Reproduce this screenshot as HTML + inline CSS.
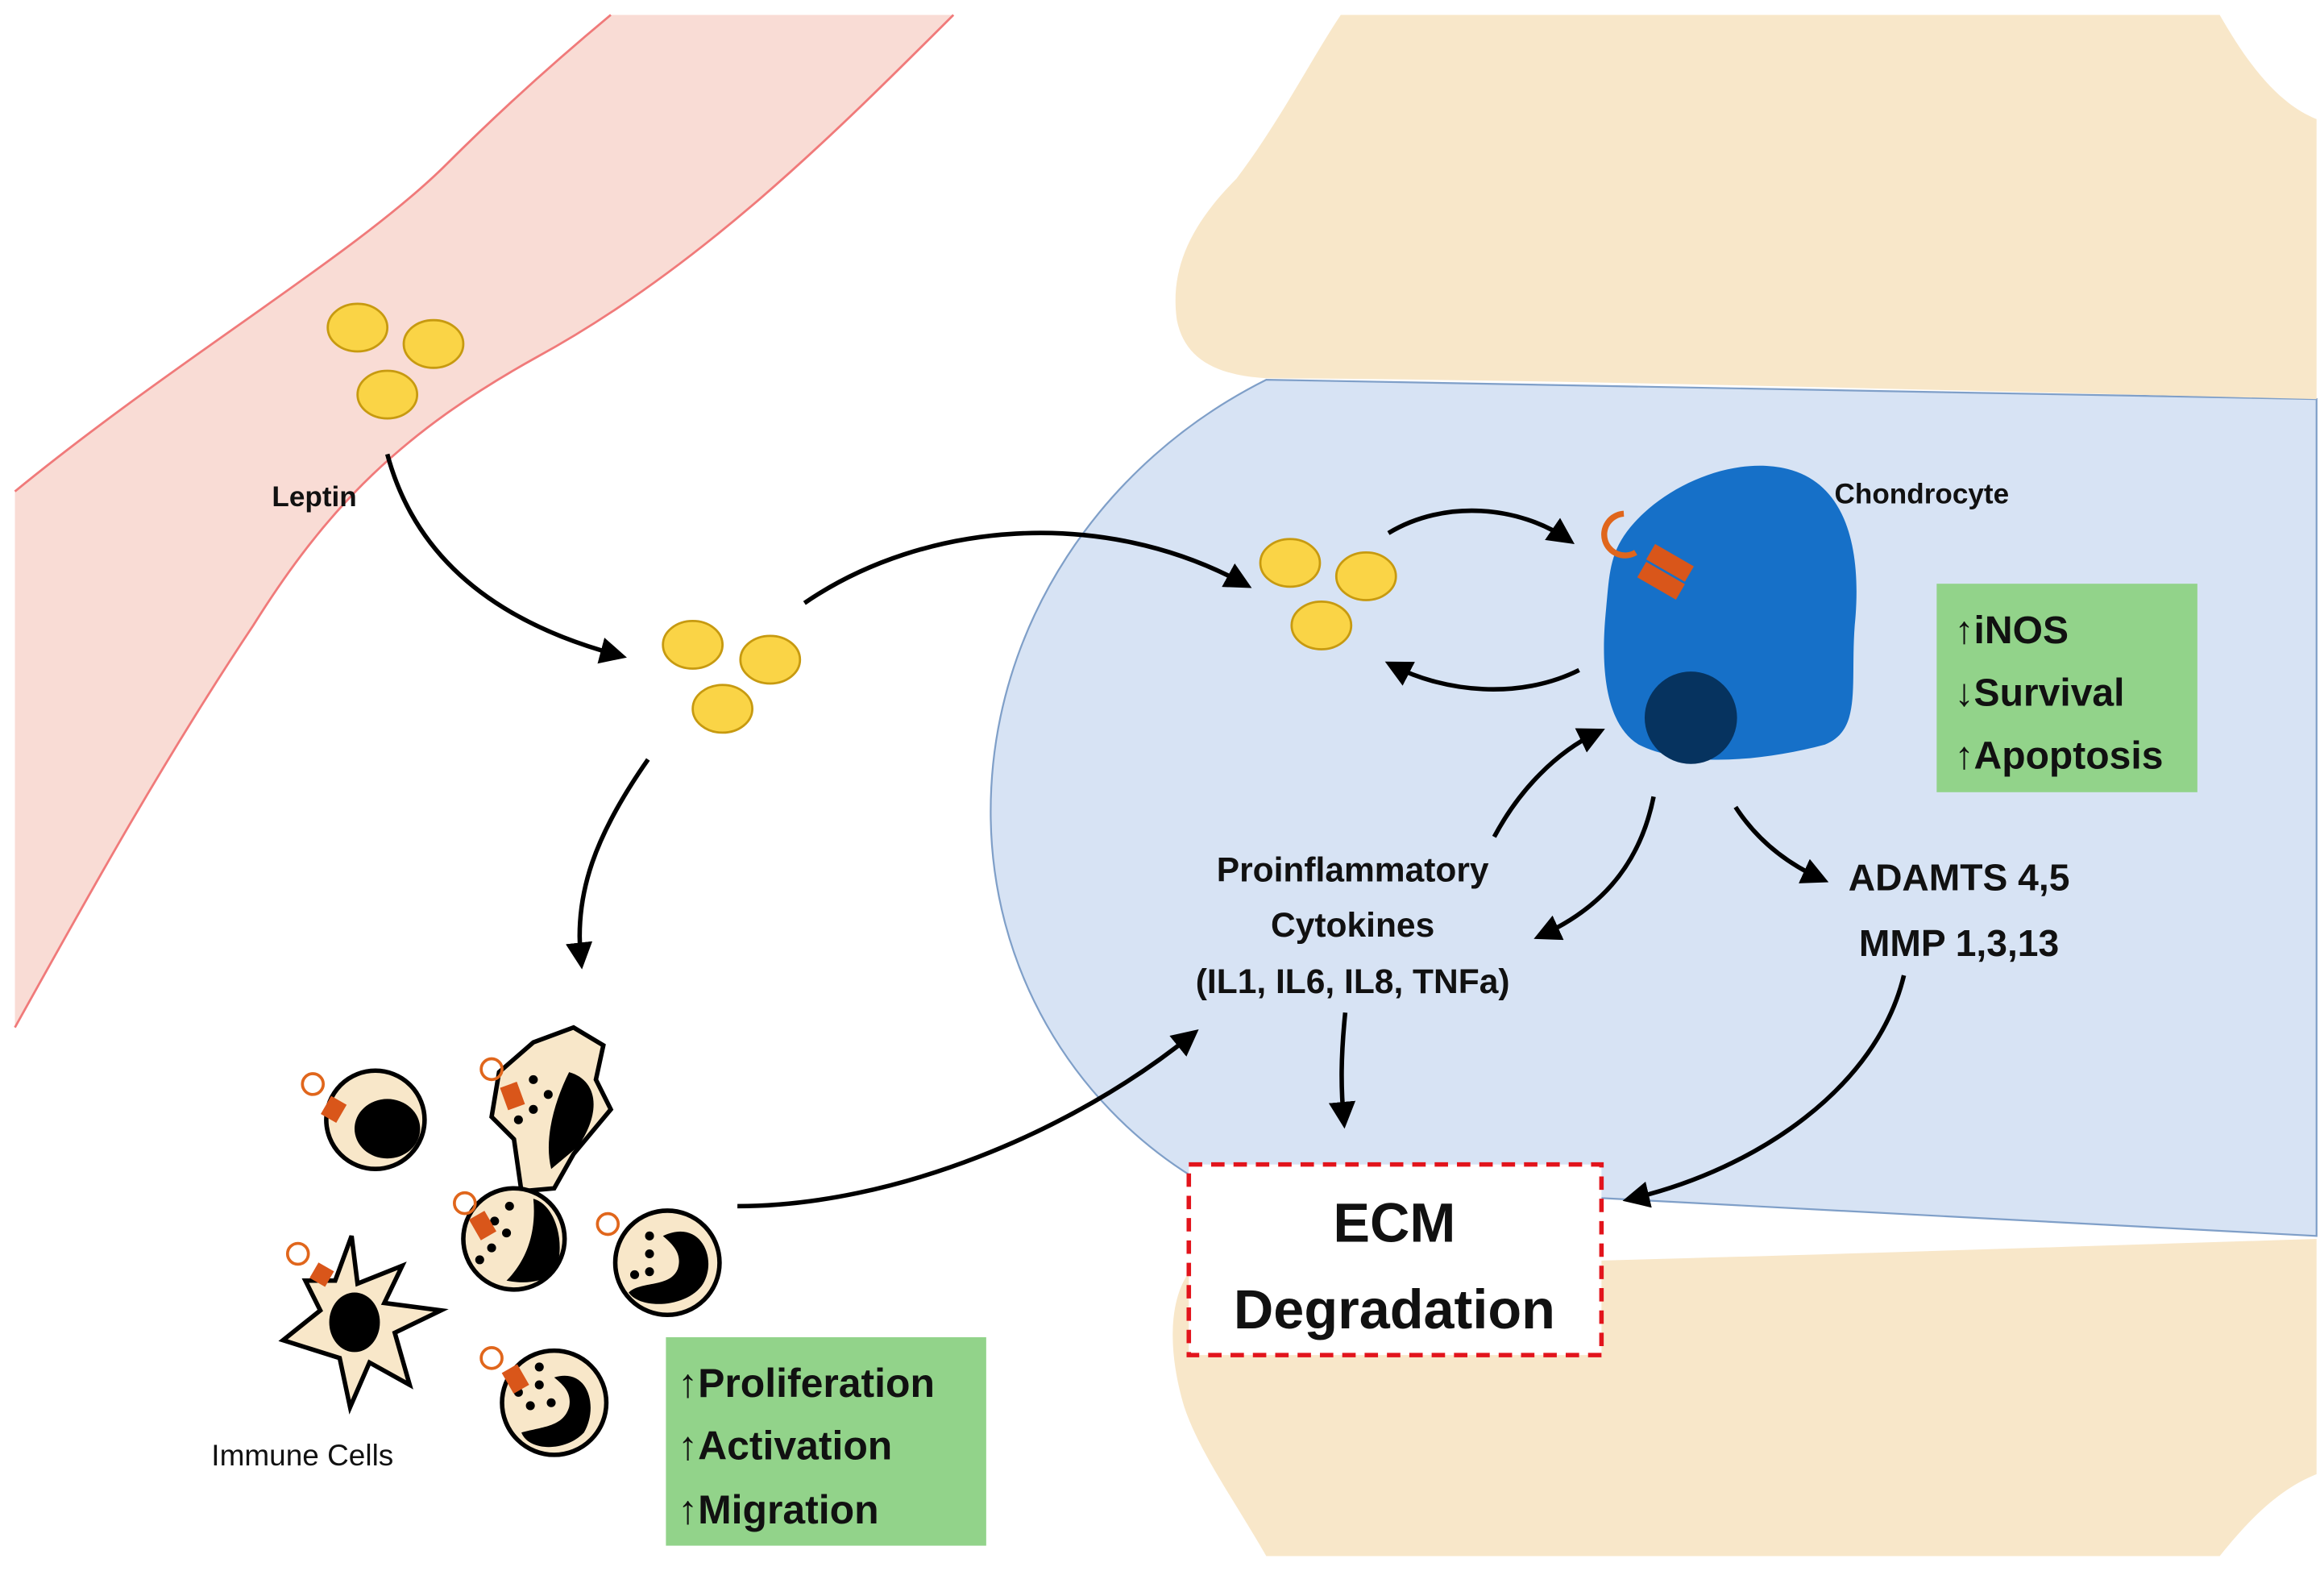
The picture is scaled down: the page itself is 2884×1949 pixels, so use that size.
<!DOCTYPE html>
<html><head><meta charset="utf-8"><style>
html,body{margin:0;padding:0;background:#fff}
svg{display:block}
text{font-family:"Liberation Sans",sans-serif;font-weight:bold;fill:#111}
</style></head><body>
<svg width="2884" height="1949" viewBox="0 0 1560 1055" preserveAspectRatio="none" xmlns="http://www.w3.org/2000/svg">
<defs>
<marker id="ah" markerWidth="6" markerHeight="6" refX="4" refY="3" orient="auto" markerUnits="strokeWidth">
<path d="M0,0 L6,3 L0,6 Z" fill="#000"/></marker>
</defs>
<rect width="1560" height="1055" fill="#fff"/>
<!-- vessel -->
<path d="M10,330 C120,240 240,170 300,110 C340,70 380,35 410,10 L640,10 C560,90 470,180 360,240 C270,290 220,340 170,420 C110,510 60,600 10,690 Z" fill="#f9dcd5"/>
<path d="M10,330 C120,240 240,170 300,110 C340,70 380,35 410,10" fill="none" stroke="#f07a7a" stroke-width="1.5"/>
<path d="M640,10 C560,90 470,180 360,240 C270,290 220,340 170,420 C110,510 60,600 10,690" fill="none" stroke="#f07a7a" stroke-width="1.5"/>
<!-- blue joint space -->
<path d="M850,255 C740,310 665,420 665,545 C665,650 720,740 800,790 L1555,830 L1555,268 Z" fill="#d7e3f4" stroke="#7f9fc8" stroke-width="1.2"/>
<!-- bones -->
<path d="M900,10 L1490,10 C1510,45 1530,70 1555,80 L1555,268 C1300,262 1050,255 850,254 C815,252 795,240 790,215 C785,180 800,150 830,120 C860,80 880,40 900,10 Z" fill="#f8e7c9"/>
<path d="M800,852 C1000,850 1300,840 1555,832 L1555,990 C1530,1000 1510,1020 1490,1045 L850,1045 C830,1010 805,975 795,945 C783,905 785,870 800,852 Z" fill="#f8e7c9"/>
<!-- leptin -->
<g fill="#fad446" stroke="#c79a10" stroke-width="1.5">
<ellipse cx="240" cy="220" rx="20" ry="16"/><ellipse cx="291" cy="231" rx="20" ry="16"/><ellipse cx="260" cy="265" rx="20" ry="16"/>
<ellipse cx="465" cy="433" rx="20" ry="16"/><ellipse cx="517" cy="443" rx="20" ry="16"/><ellipse cx="485" cy="476" rx="20" ry="16"/>
<ellipse cx="866" cy="378" rx="20" ry="16"/><ellipse cx="917" cy="387" rx="20" ry="16"/><ellipse cx="887" cy="420" rx="20" ry="16"/>
</g>
<!-- chondrocyte -->
<path d="M1090,360 C1110,330 1160,305 1200,315 C1240,325 1250,370 1245,420 C1242,460 1250,490 1225,500 C1180,512 1130,515 1100,500 C1075,485 1075,440 1078,410 C1080,390 1080,375 1090,360 Z" fill="#1670c8"/>
<circle cx="1135" cy="482" r="31" fill="#06335f"/>
<path d="M1090,345 a14,14 0 1 0 8,26" fill="none" stroke="#e0661c" stroke-width="4"/>
<rect x="1106" y="372" width="30" height="12" fill="#d9561a" transform="rotate(30 1121 378)"/>
<rect x="1100" y="384" width="30" height="12" fill="#d9561a" transform="rotate(30 1115 390)"/>
<!-- arrows -->
<g fill="none" stroke="#000" stroke-width="3" marker-end="url(#ah)">
<path d="M260,305 C280,380 340,420 415,440"/>
<path d="M540,405 C620,350 740,340 835,392"/>
<path d="M435,510 C400,560 385,600 390,645"/>
<path d="M932,358 C970,335 1020,340 1052,362"/>
<path d="M1060,450 C1020,470 970,465 935,447"/>
<path d="M495,810 C600,810 720,760 800,695"/>
<path d="M1003,562 C1020,530 1045,505 1072,492"/>
<path d="M1110,535 C1100,585 1070,612 1035,628"/>
<path d="M1165,542 C1180,565 1200,580 1222,590"/>
<path d="M903,680 C900,710 900,730 902,752"/>
<path d="M1278,655 C1260,730 1180,785 1095,805"/>
</g>
<!-- green boxes -->
<rect x="1300" y="392" width="175" height="140" fill="#92d38a"/>
<text x="1312" y="432" font-size="26">↑iNOS</text>
<text x="1312" y="474" font-size="26">↓Survival</text>
<text x="1312" y="516" font-size="26">↑Apoptosis</text>
<rect x="447" y="898" width="215" height="140" fill="#92d38a"/>
<text x="455" y="938" font-size="27">↑Proliferation</text>
<text x="455" y="980" font-size="27">↑Activation</text>
<text x="455" y="1023" font-size="27">↑Migration</text>
<!-- ECM -->
<rect x="798" y="782" width="277" height="128" fill="#fff" stroke="#e2141c" stroke-width="3" stroke-dasharray="9,6"/>
<text x="936" y="834" font-size="37" text-anchor="middle">ECM</text>
<text x="936" y="892" font-size="37" text-anchor="middle">Degradation</text>
<!-- labels -->
<text x="211" y="340" font-size="19" text-anchor="middle">Leptin</text>
<text x="1290" y="338" font-size="19" text-anchor="middle">Chondrocyte</text>
<text x="908" y="592" font-size="23" text-anchor="middle">Proinflammatory</text>
<text x="908" y="629" font-size="23" text-anchor="middle">Cytokines</text>
<text x="908" y="667" font-size="23" text-anchor="middle">(IL1, IL6, IL8, TNFa)</text>
<text x="1315" y="598" font-size="25" text-anchor="middle">ADAMTS 4,5</text>
<text x="1315" y="642" font-size="25" text-anchor="middle">MMP 1,3,13</text>
<text x="203" y="984" font-size="20" text-anchor="middle" style="font-weight:normal">Immune Cells</text>
<!-- immune cells -->
<g stroke="#000" stroke-width="3" fill="#f8e7c9">
<circle cx="252" cy="752" r="33"/>
<path d="M335,720 L358,700 L385,690 L405,702 L400,725 L410,745 L385,775 L372,798 L350,800 L345,765 L330,750 Z"/>
<circle cx="345" cy="832" r="34"/>
<circle cx="448" cy="848" r="35"/>
<path d="M236,830 L240,862 L270,850 L258,875 L296,880 L265,895 L275,930 L248,915 L235,945 L228,912 L190,900 L215,880 L205,860 L225,860 Z"/>
<circle cx="372" cy="942" r="35"/>
</g>
<g fill="#000">
<ellipse cx="260" cy="758" rx="22" ry="20"/>
<path d="M382,720 C400,725 405,745 388,770 L370,785 C365,765 372,740 382,720 Z"/>
<circle cx="358" cy="725" r="3"/><circle cx="368" cy="735" r="3"/><circle cx="358" cy="745" r="3"/><circle cx="348" cy="752" r="3"/>
<path d="M358,805 C375,810 380,840 372,855 C362,862 350,862 340,860 C355,845 360,825 358,805 Z"/>
<circle cx="332" cy="820" r="3"/><circle cx="340" cy="828" r="3"/><circle cx="330" cy="838" r="3"/><circle cx="322" cy="846" r="3"/><circle cx="342" cy="810" r="3"/>
<path d="M445,830 C470,818 482,845 472,862 C462,878 430,880 422,868 C430,860 450,865 455,852 C458,842 452,836 445,830 Z"/>
<circle cx="436" cy="830" r="3"/><circle cx="436" cy="842" r="3"/><circle cx="436" cy="854" r="3"/><circle cx="426" cy="856" r="3"/>
<ellipse cx="238" cy="888" rx="17" ry="20"/>
<path d="M372,925 C395,918 402,945 392,962 C380,975 355,975 350,962 C365,958 378,958 382,945 C384,935 378,930 372,925 Z"/>
<circle cx="362" cy="918" r="3"/><circle cx="362" cy="930" r="3"/><circle cx="370" cy="942" r="3"/><circle cx="356" cy="944" r="3"/><circle cx="348" cy="935" r="3"/>
</g>
<g fill="#d9561a">
<rect x="218" y="738" width="12" height="14" transform="rotate(30 224 745)"/>
<rect x="338" y="728" width="12" height="16" transform="rotate(-20 344 736)"/>
<rect x="318" y="815" width="12" height="16" transform="rotate(-30 324 823)"/>
<rect x="210" y="850" width="12" height="12" transform="rotate(30 216 856)"/>
<rect x="340" y="918" width="12" height="16" transform="rotate(-30 346 926)"/>
</g>
<g fill="none" stroke="#e0661c" stroke-width="2">
<circle cx="210" cy="728" r="7"/><circle cx="330" cy="718" r="7"/><circle cx="312" cy="808" r="7"/><circle cx="408" cy="822" r="7"/><circle cx="200" cy="842" r="7"/><circle cx="330" cy="912" r="7"/>
</g>
</svg>
</body></html>
